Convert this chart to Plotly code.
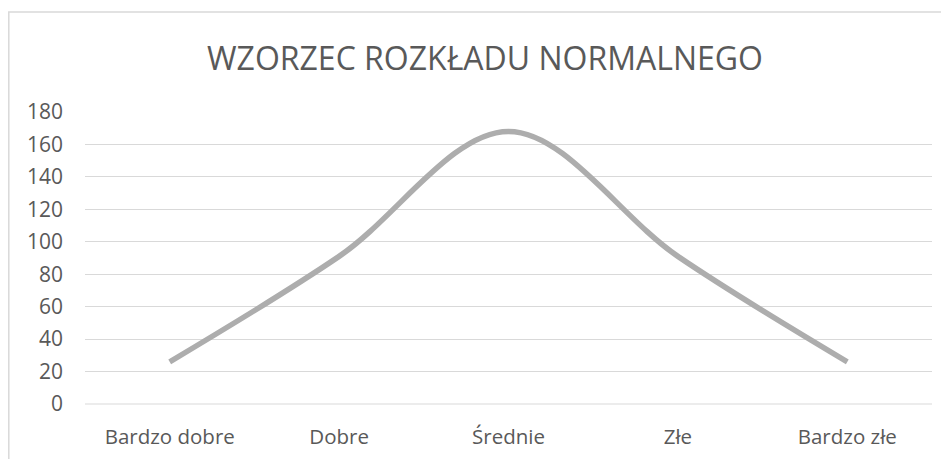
import plotly.graph_objects as go

categories = ["Bardzo dobre", "Dobre", "Średnie", "Złe", "Bardzo złe"]
values = [26, 91, 168, 91, 26]
y_ticks = [0, 20, 40, 60, 80, 100, 120, 140, 160, 180]

W, H = 949, 459
OFF = 8  # page body offset
L, R, T, B = 85 - OFF, 949 - (932 - OFF), 112 - OFF, 459 - (404 - OFF)
pw, ph = W - L - R, H - T - B

def px_x(p):
    return (p - OFF - L) / pw

def px_y(p):
    return (H - B - (p - OFF)) / ph

fig = go.Figure()
fig.add_trace(go.Scatter(
    x=categories, y=values, mode="lines",
    line=dict(color="#adadad", width=5.5, shape="spline", smoothing=1.0),
    hoverinfo="x+y", showlegend=False,
))

fig.update_layout(
    width=W, height=H,
    margin=dict(l=L, r=R, t=T, b=B),
    paper_bgcolor="white", plot_bgcolor="white",
    font=dict(family="Open Sans, sans-serif", color="#595959", size=20),
    title=dict(text="WZORZEC ROZKŁADU NORMALNEGO", xref="container", yref="container",
               x=(485 - OFF) / W, xanchor="center", y=1 - (59 - OFF) / H, yanchor="middle",
               font=dict(size=32, color="#595959", family="Open Sans, sans-serif")),
    xaxis=dict(type="category", range=[-0.5, 4.5], showgrid=False, zeroline=False,
               showline=False, ticks="", tickfont=dict(size=20.5), ticklabelstandoff=18),
    yaxis=dict(range=[0, 180], tickvals=y_ticks, showgrid=True, gridcolor="#d9d9d9",
               gridwidth=1, zeroline=False, showline=False, ticks="",
               tickfont=dict(size=21), ticklabelstandoff=21),
    shapes=[
        dict(type="line", xref="paper", yref="paper", x0=0, x1=1, y0=0, y1=0,
             line=dict(color="#d9d9d9", width=1), layer="below"),
        dict(type="rect", xref="paper", yref="paper",
             x0=px_x(8.8), x1=px_x(975), y0=px_y(480), y1=px_y(12),
             line=dict(color="#d9d9d9", width=1.5), fillcolor="rgba(0,0,0,0)"),
    ],
)

fig.write_html("out.html")
